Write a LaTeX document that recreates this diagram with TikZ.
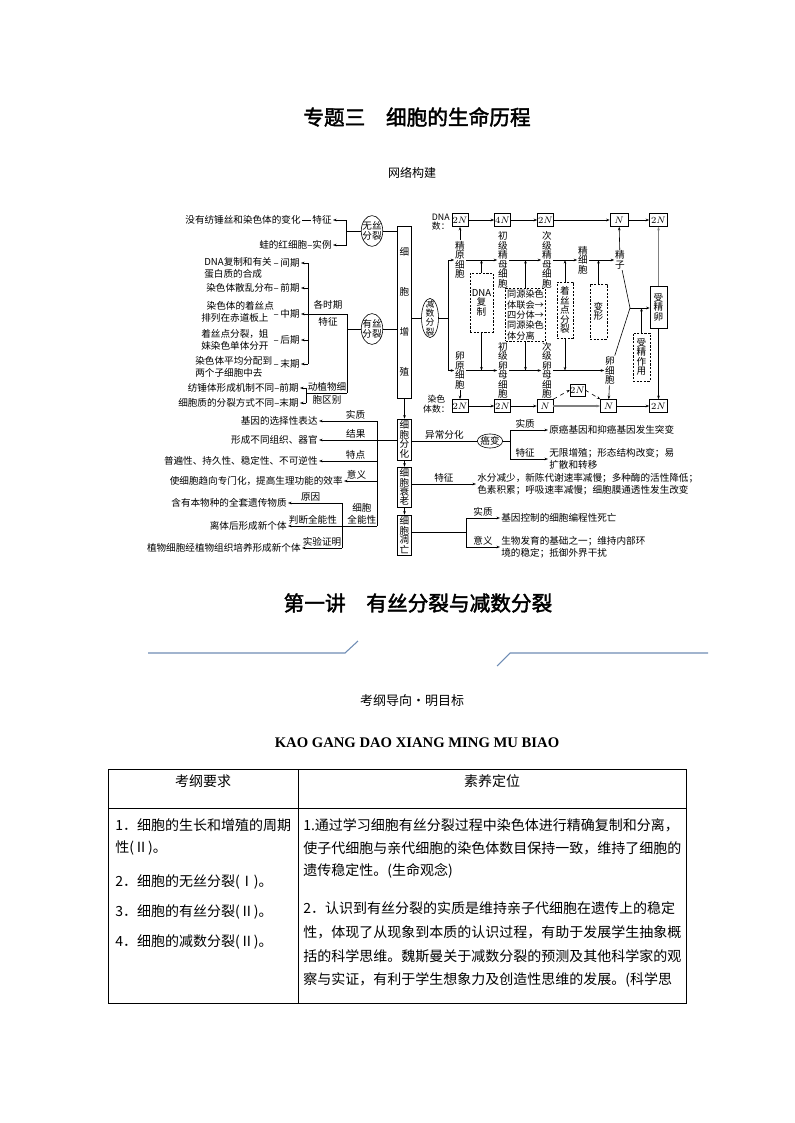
\documentclass[tikz,border=0pt]{standalone}
\usepackage{fontspec}
\setmainfont{Noto Sans CJK SC}
\newfontfamily\titlefont[FakeBold=2]{Noto Sans CJK SC}
\newfontfamily\serifbf{Liberation Serif}
\usepackage{tikz}
\usetikzlibrary{arrows.meta, positioning, calc, shapes.geometric}
\definecolor{deco}{RGB}{110, 140, 180}
\newcommand{\dfont}{\fontsize{7.2}{9}\selectfont}
\newcommand{\vfont}{\fontsize{7.2}{7.1}\selectfont}
\newcommand{\tfont}{\fontsize{10.5}{12}\selectfont}

\begin{document}
\begin{tikzpicture}[x=0.75pt, y=-0.75pt,
    line width=0.45pt,
    >={Stealth[length=2.6pt, width=1.9pt]},
    txt/.style={font=\dfont, inner sep=0.8pt},
    lbl/.style={font=\dfont, inner sep=1pt},
    vtxt/.style={font=\vfont, align=center, inner sep=0.5pt},
    nbox/.style={draw, font=\dfont, inner sep=0pt,
                 minimum height=9.75pt, minimum width=12pt},
    vbox/.style={draw, font=\vfont, align=center, inner sep=0pt,
                 minimum width=10.5pt},
    dbox/.style={draw, dash pattern=on 1.6pt off 1.1pt, font=\vfont,
                 align=center, inner sep=1pt},
    oval/.style={draw, ellipse, font=\vfont, align=center},
    tcell/.style={font=\tfont, inner sep=0pt, anchor=west},
  ]
  \useasboundingbox (0,0) rectangle (794,1123);

  \node[font=\titlefont\fontsize{15.5}{16}\selectfont] (title)
      at (417,117) {专题三　细胞的生命历程};
  \node[font=\fontsize{9}{10}\selectfont] (net) at (412,173) {网络构建};

  % cell proliferation
  \node[vbox, font=\fontsize{7.2}{30}\selectfont, minimum height=129pt]
      (prolif) at (404.5,312) {细\\胞\\增\\殖};
  \node[oval, inner xsep=-1.5pt, inner ysep=1.3pt] (amito)
      at (372,231) {无丝\\分裂};
  \node[oval, inner xsep=-1.5pt, inner ysep=1.3pt] (mito)
      at (372,329) {有丝\\分裂};
  \draw (amito) -- (prolif.west |- amito);
  \draw (mito) -- (prolif.west |- mito);

  \node[txt, anchor=east] (noSp) at (302,220) {没有纺锤丝和染色体的变化};
  \node[txt, anchor=east] (amiF) at (333,220) {特征};
  \node[txt, anchor=east] (amiE) at (333,245) {蛙的红细胞–实例};
  \draw (noSp) -- (amiF);
  \coordinate (amiJ) at (346,231);
  \draw[->] (amiJ) |- (amiF);
  \draw[->] (amiJ) |- (amiE);
  \draw (amiJ) -- (amito);

  \node[txt, anchor=west, align=left] (dI) at (203,268)
      {DNA复制和有关\\蛋白质的合成};
  \node[txt, anchor=west] (dP) at (205,288) {染色体散乱分布};
  \node[txt, anchor=west, align=left] (dM) at (200,312)
      {\hspace{4pt}染色体的着丝点\\排列在赤道板上};
  \node[txt, anchor=west, align=left] (dA) at (200,340)
      {着丝点分裂，姐\\妹染色单体分开};
  \node[txt, anchor=west, align=left] (dT) at (194,367)
      {染色体平均分配到\\两个子细胞中去};
  \foreach \n/\t/\y in {pI/间期/263, pP/前期/288, pM/中期/314,
                        pA/后期/340, pT/末期/364}
    \node[txt, anchor=east] (\n) at (301,\y) {–\,\t};
  \coordinate (barT) at (308,263);
  \coordinate (barB) at (308,364);
  \draw (barT) -- (barB);
  \foreach \n in {pI,pP,pM,pA,pT}
    \draw[->] (barT |- \n.east) -- (\n.east);
  \coordinate (mitJ) at (347,314);
  \coordinate (mitK) at (347,393);
  \draw (mitJ) -- (barT |- mitJ);
  \draw (mitJ) -- (mitK);
  \draw (mitJ |- mito) -- (mito);
  \node[lbl] (allT) at (328,305) {各时期};
  \node[lbl] (allF) at (328,322) {特征};

  \node[txt, anchor=east] (dPro) at (300,388) {纺锤体形成机制不同–前期};
  \node[txt, anchor=east] (dTel) at (300,403) {细胞质的分裂方式不同–末期};
  \coordinate (difT) at (306,388);
  \coordinate (difB) at (306,403);
  \draw (difT) -- (difB);
  \draw[->] (difT) -- (dPro);
  \draw[->] (difB) -- (dTel);
  \draw (difT |- mitK) -- (mitK);
  \node[lbl] (apd1) at (327,387) {动植物细};
  \node[lbl] (apd2) at (327,400) {胞区别};

  % differentiation, ageing, apoptosis
  \node[vbox, minimum height=30.75pt] (differ) at (404.5,439.5) {细\\胞\\分\\化};
  \node[vbox, minimum height=30pt] (aging) at (404.5,487) {细\\胞\\衰\\老};
  \node[vbox, minimum height=30pt] (apop) at (404.5,535) {细\\胞\\凋\\亡};
  \draw[->] (prolif) -- (differ);
  \draw[->] (differ) -- (aging);
  \draw[->] (aging) -- (apop);

  \coordinate (dv1) at (377,421);
  \coordinate (dv5) at (377,526);
  \draw (dv1) -- (dv5);
  \node[txt, anchor=east] (sel) at (319,421) {基因的选择性表达};
  \node[txt, anchor=east] (res) at (319,440) {形成不同组织、器官};
  \node[txt, anchor=east] (feat) at (319,461) {普遍性、持久性、稳定性、不可逆性};
  \node[txt, anchor=east] (mean) at (344,481) {使细胞趋向专门化，提高生理功能的效率};
  \draw[->] (dv1) -- node[lbl, above, pos=0.37] (lSel) {实质} (sel);
  \draw[->] (differ.west |- res) -- node[lbl, above, pos=0.53] (lRes) {结果} (res);
  \draw[->] (dv1 |- feat) -- node[lbl, above, pos=0.37] (lFeat) {特点} (feat);
  \draw[->] (dv1 |- mean) -- node[lbl, above, pos=0.62] (lMean) {意义} (mean);

  \node[txt, anchor=east] (tot1) at (288,503) {含有本物种的全套遗传物质};
  \node[txt, anchor=east] (tot2) at (288,526) {离体后形成新个体};
  \node[txt, anchor=east] (tot3) at (302,548) {植物细胞经植物组织培养形成新个体};
  \draw[->] (dv5) -- node[lbl, above, pos=0.17, align=center] (lTot) {细胞\\全能性}
      node[lbl, above, pos=0.72] (lJud) {判断全能性} (tot2);
  \coordinate (tv1) at (342,503);
  \coordinate (tv3) at (342,548);
  \draw (tv1) -- (tv3);
  \draw[->] (tv1) -- node[lbl, above, pos=0.58] (lWhy) {原因} (tot1);
  \draw[->] (tv3) -- node[lbl, above, pos=0.5] (lExp) {实验证明} (tot3);

  \node[oval, inner xsep=-0.5pt, inner ysep=0.4pt] (cancer) at (490,441) {癌变};
  \draw (differ.east |- cancer) -- node[lbl, above] (lAbn) {异常分化} (cancer);
  \coordinate (cj) at (510,441);
  \draw (cancer) -- (cj);
  \node[txt, anchor=west] (can1) at (548,430) {原癌基因和抑癌基因发生突变};
  \node[txt, anchor=west, align=left] (can2) at (548,459)
      {无限增殖；形态结构改变；易\\扩散和转移};
  \draw[->] (cj) |- node[lbl, above, pos=0.7] (lCan1) {实质} (can1);
  \draw[->] (cj) |- node[lbl, above, pos=0.7] (lCan2) {特征} (can2);

  \node[txt, anchor=west, align=left] (age) at (476,484)
      {水分减少，新陈代谢速率减慢；多种酶的活性降低；\\色素积累；呼吸速率减慢；细胞膜通透性发生改变};
  \draw[->] (aging.east |- age) -- node[lbl, above] (lAge) {特征} (age);

  \coordinate (ajT) at (466,518);
  \coordinate (ajB) at (466,547);
  \draw (apop.east |- 0,532) -- (ajT |- 0,532);
  \draw (ajT) -- (ajB);
  \node[txt, anchor=west] (apo1) at (500,518) {基因控制的细胞编程性死亡};
  \node[txt, anchor=west, align=left] (apo2) at (500,547)
      {生物发育的基础之一；维持内部环\\境的稳定；抵御外界干扰};
  \draw[->] (ajT) -- node[lbl, above] (lApo1) {实质} (apo1);
  \draw[->] (ajB) -- node[lbl, above] (lApo2) {意义} (apo2);

  % meiosis
  \node[oval, font=\fontsize{6.6}{6.9}\selectfont, inner xsep=1.2pt,
        inner ysep=-3pt] (meio) at (430,318) {减\\数\\分\\裂};
  \draw (prolif.east |- meio) -- (meio);
  \coordinate (mj) at (448,318);
  \draw (meio) -- (mj);

  \node[txt, align=center, anchor=east, font=\fontsize{6.6}{7.2}\selectfont]
      (dnaL) at (451,222) {DNA\\数：};
  \node[nbox] (b11) at (460,220) {$2N$};
  \node[nbox] (b12) at (502.5,220) {$4N$};
  \node[nbox] (b13) at (545.5,220) {$2N$};
  \node[nbox, minimum width=13.5pt] (b14) at (619,220) {$N$};
  \node[nbox, minimum width=13.5pt] (b15) at (658.5,220) {$2N$};
  \draw[->] (b11) -- (b12);
  \draw[->] (b12) -- (b13);
  \draw[->] (b13) -- (b14);
  \draw[->] (b14) -- (b15);

  \node[txt, align=center, anchor=east, font=\fontsize{6.6}{7.2}\selectfont]
      (chrL) at (451,404) {染色\\体数：};
  \node[nbox] (b21) at (460,406) {$2N$};
  \node[nbox] (b22) at (502.5,406) {$2N$};
  \node[nbox] (b23) at (545,406) {$N$};
  \node[nbox] (b24) at (608.5,406) {$N$};
  \node[nbox, minimum width=13.5pt] (b25) at (658.5,406) {$2N$};
  \node[nbox, minimum width=11pt, minimum height=9pt] (bx) at (577.5,390) {$2N$};
  \draw[->] (b21) -- (b22);
  \draw[->] (b22) -- (b23);
  \draw[->, gray, line width=1.1pt] (b23) -- (b24);
  \draw[->] (b24) -- (b25);
  \draw[->, dashed] (b23.north east) -- (bx.west);
  \draw[->, dashed] (bx.east) -- (b24.north west);

  \node[vtxt] (sg) at (460,260) {精\\原\\细\\胞};
  \node[vtxt] (ps) at (503,260) {初\\级\\精\\母\\细\\胞};
  \node[vtxt] (ss) at (547,260) {次\\级\\精\\母\\细\\胞};
  \node[vtxt] (sd) at (583,260) {精\\细\\胞};
  \node[vtxt] (sz) at (620,260) {精\\子};
  \node[vtxt] (og) at (460,370.5) {卵\\原\\细\\胞};
  \node[vtxt] (po) at (503,370.5) {初\\级\\卵\\母\\细\\胞};
  \node[vtxt] (so) at (547,370.5) {次\\级\\卵\\母\\细\\胞};
  \node[vtxt] (eg) at (610,370.5) {卵\\细\\胞};
  \draw (mj |- sg) -- (mj |- og);
  \draw[->] (mj |- sg) -- (sg);
  \draw[->] (mj |- og) -- (og);
  \draw[->] (sg) -- (ps);
  \draw[->] (ps) -- (ss);
  \draw[->] (ss) -- (sd);
  \draw[->] (sd) -- (sz);
  \draw[->] (og) -- (po);
  \draw[->] (po) -- (so);
  \draw[->] (so) -- (eg);
  \draw[->] (sg) -- (b11);
  \draw[->] (sz) -- (b14);
  \draw[->] (og) -- (b21);
  \draw[->] (eg) -- (b24);

  \coordinate (fz) at (630,308);
  \node[vbox, minimum height=31.5pt, minimum width=12.75pt] (zyg)
      at (658.5,307) {受\\精\\卵};
  \draw (sz) -- (fz);
  \draw (eg) -- (fz);
  \draw[->] (fz) -- (zyg.west |- fz);
  \draw[->, gray, line width=1pt] (zyg) -- (b15);
  \draw[->] (zyg) -- (b25);

  \node[dbox, minimum width=17.25pt, minimum height=44.25pt] (dnaR)
      at (481.5,302.5) {DNA\\复\\制};
  \node[dbox, align=left, font=\fontsize{6.9}{7.8}\selectfont,
        minimum width=29pt, minimum height=39.5pt] (synap)
      at (525.5,315) {同源染色\\体联会→\\四分体→\\同源染色\\体分离};
  \node[dbox, minimum width=12pt, minimum height=42pt] (cent)
      at (565,310) {着\\丝\\点\\分\\裂};
  \node[dbox, minimum width=12.75pt, minimum height=41.25pt] (morph)
      at (598.5,311.5) {变\\形};
  \node[dbox, minimum width=12.75pt, minimum height=36pt] (fert)
      at (641.5,357) {受\\精\\作\\用};
  \draw[->] (dnaR) -- (dnaR |- sg);
  \draw[->] (dnaR) -- (dnaR |- og);
  \draw[->] (synap) -- (synap |- sg);
  \draw[->] (synap) -- (synap |- og);
  \draw[->] (cent) -- (cent |- sg);
  \draw[->] (cent) -- (cent |- og);
  \draw[->] (morph) -- (morph |- sd);
  \draw[->] (fert) -- (fert |- fz);

  % lecture heading
  \node[font=\titlefont\fontsize{15.5}{16}\selectfont] (lect)
      at (418,603) {第一讲　有丝分裂与减数分裂};
  \draw[deco, line width=0.8pt] (148,653) -- (345,653) -- (358,641);
  \draw[deco, line width=0.8pt] (497,666) -- (510,653) -- (708,653);
  \node[font=\fontsize{9.75}{11}\selectfont] (guide) at (412,701) {考纲导向·明目标};
  \node[font=\serifbf\bfseries\fontsize{11}{12}\selectfont] (pinyin)
      at (417,743) {KAO GANG DAO XIANG MING MU BIAO};

  % table
  \draw[line width=0.6pt] (108,769) rectangle (686,1003);
  \draw[line width=0.6pt] (298,769) -- (298,1003);
  \draw[line width=0.6pt] (108,808) -- (686,808);
  \node[font=\tfont] (hReq) at (203,781) {考纲要求};
  \node[font=\tfont] (hPos) at (492,781) {素养定位};
  \node[tcell] (r1) at (115,825) {1．细胞的生长和增殖的周期};
  \node[tcell] (r2) at (115,848) {性(Ⅱ)。};
  \node[tcell] (r3) at (115,882) {2．细胞的无丝分裂(Ⅰ)。};
  \node[tcell] (r4) at (115,912) {3．细胞的有丝分裂(Ⅱ)。};
  \node[tcell] (r5) at (115,942) {4．细胞的减数分裂(Ⅱ)。};
  \node[tcell] (s1) at (303,825) {1.通过学习细胞有丝分裂过程中染色体进行精确复制和分离，};
  \node[tcell] (s2) at (303,848) {使子代细胞与亲代细胞的染色体数目保持一致，维持了细胞的};
  \node[tcell] (s3) at (303,871) {遗传稳定性。(生命观念)};
  \node[tcell] (s4) at (303,908) {2．认识到有丝分裂的实质是维持亲子代细胞在遗传上的稳定};
  \node[tcell] (s5) at (303,932) {性，体现了从现象到本质的认识过程，有助于发展学生抽象概};
  \node[tcell] (s6) at (303,956) {括的科学思维。魏斯曼关于减数分裂的预测及其他科学家的观};
  \node[tcell] (s7) at (303,980) {察与实证，有利于学生想象力及创造性思维的发展。(科学思};
\end{tikzpicture}
\end{document}
